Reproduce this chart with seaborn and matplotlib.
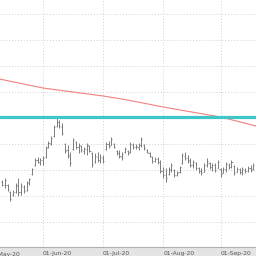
import numpy as np
import pandas as pd
import seaborn as sns
import matplotlib
matplotlib.use('Agg')
import matplotlib.pyplot as plt
from matplotlib.ticker import MultipleLocator

# daily OHLC, trading days 08-May-20 .. 18-Sep-20
highs = [68, 70, 64, 57, 58, 65, 70, 65, 63, 67, 70, 80, 90, 91, 90, 92, 102, 107, 112, 123,
         131, 128, 125, 105, 103, 96, 110, 107, 105, 103, 101, 105, 103, 96, 95, 96, 94, 93, 106, 107,
         111, 105, 98, 98, 96, 101, 98, 106, 105, 104, 105, 111, 104, 99, 96, 92, 91, 91, 88, 81,
         80, 81, 85, 79, 77, 82, 95, 96, 93, 90, 88, 86, 81, 80, 85, 90, 86, 85, 85, 88,
         80, 81, 86, 85, 88, 83, 81, 80, 81, 80, 82, 83, 85]
lows = [62, 60, 57, 47, 52, 55, 52, 53, 55, 57, 63, 73, 82, 85, 83, 83, 90, 100, 103, 111,
        121, 120, 113, 95, 90, 82, 98, 99, 95, 96, 94, 93, 96, 81, 85, 86, 85, 85, 98, 100,
        103, 100, 93, 90, 88, 95, 93, 95, 99, 99, 98, 101, 98, 95, 91, 85, 86, 84, 75, 70,
        66, 73, 76, 71, 72, 75, 84, 88, 85, 81, 80, 78, 75, 73, 76, 81, 79, 77, 76, 80,
        71, 75, 76, 79, 80, 73, 76, 74, 73, 75, 76, 76, 78]
opens = [66, 63, 63, 56, 53, 56, 62, 56, 61, 58, 65, 74, 83, 88, 86, 88, 91, 101, 104, 112,
         122, 126, 121, 104, 98, 93, 99, 106, 101, 102, 97, 99, 102, 95, 86, 91, 88, 90, 99, 104,
         103, 104, 97, 95, 91, 96, 97, 96, 103, 101, 101, 103, 103, 98, 95, 91, 87, 89, 86, 77,
         73, 74, 78, 78, 73, 76, 85, 92, 90, 88, 83, 85, 80, 77, 76, 83, 85, 81, 83, 80,
         79, 75, 79, 83, 81, 82, 76, 79, 76, 78, 77, 80, 79]
closes = [63, 68, 58, 49, 56, 63, 56, 62, 57, 66, 69, 79, 88, 86, 88, 90, 100, 105, 110, 121,
          126, 122, 115, 97, 92, 85, 108, 101, 103, 98, 99, 103, 97, 84, 92, 88, 91, 87, 104, 102,
          109, 101, 95, 92, 94, 99, 95, 104, 101, 102, 103, 109, 100, 96, 92, 87, 89, 86, 77, 73,
          70, 79, 83, 73, 75, 81, 93, 90, 87, 83, 86, 80, 77, 75, 83, 87, 81, 83, 78, 86,
          74, 79, 84, 81, 86, 75, 79, 76, 79, 77, 80, 78, 83]
holidays = ['2020-05-25', '2020-07-03', '2020-09-07']
dates = pd.bdate_range('2020-05-08', '2020-09-18', freq='C', holidays=holidays)

# moving average (red) sampled at a few bars, and the horizontal level (cyan)
ma_idx = [-1, 15, 37, 46, 59, 80, 93]
ma_vals = [169, 160, 152, 148, 141, 131, 122]
level = 131

sns.set_style('white')
fig = plt.figure(figsize=(2.56, 2.56), dpi=100)
fig.patch.set_facecolor('#e4e4e4')
ax = fig.add_axes([0, 9 / 256, 1, 247 / 256])
ax.set_facecolor('white')

x = np.arange(len(dates))
bar_col = '#7c7c7c'
ax.vlines(x, lows, highs, color=bar_col, lw=0.7)
ax.hlines(opens, x - 0.4, x, color=bar_col, lw=0.6)
ax.hlines(closes, x, x + 0.4, color=bar_col, lw=0.6)

sns.lineplot(x=ma_idx, y=ma_vals, color='#f28080', lw=0.8, ax=ax)
ax.axhline(level, color='#3ec6c8', lw=2.3)

# month ticks at first trading day of each month
d = pd.Series(dates)
first = d.groupby(d.dt.to_period('M')).head(1).index.tolist()[1:]
labels = [dates[i].strftime('01-%b-%y') for i in first]
ax.set_xticks(first)
ax.set_xticklabels(labels, ha='left', fontsize=4.3, color='#555555')
ax.text(-5, -0.02, '01-May-20', transform=ax.get_xaxis_transform(), ha='left', va='top',
        fontsize=4.3, color='#555555', clip_on=False)
ax.tick_params(axis='x', direction='out', length=2, pad=0.8, color='#909090', width=0.6)
ax.yaxis.set_major_locator(MultipleLocator(26))
ax.tick_params(axis='y', left=False, labelleft=False)
ax.grid(True, color='#d0d0d0', linestyle=(0, (1, 2)), lw=0.7)

ax.set_xlim(-0.75, 93.0)
ax.set_ylim(1, 248)
for s in ['top', 'left', 'right']:
    ax.spines[s].set_visible(False)
ax.spines['bottom'].set_color('#b0b0b0')
ax.spines['bottom'].set_linewidth(0.8)

fig.savefig('out.png', dpi=100, facecolor=fig.get_facecolor())
